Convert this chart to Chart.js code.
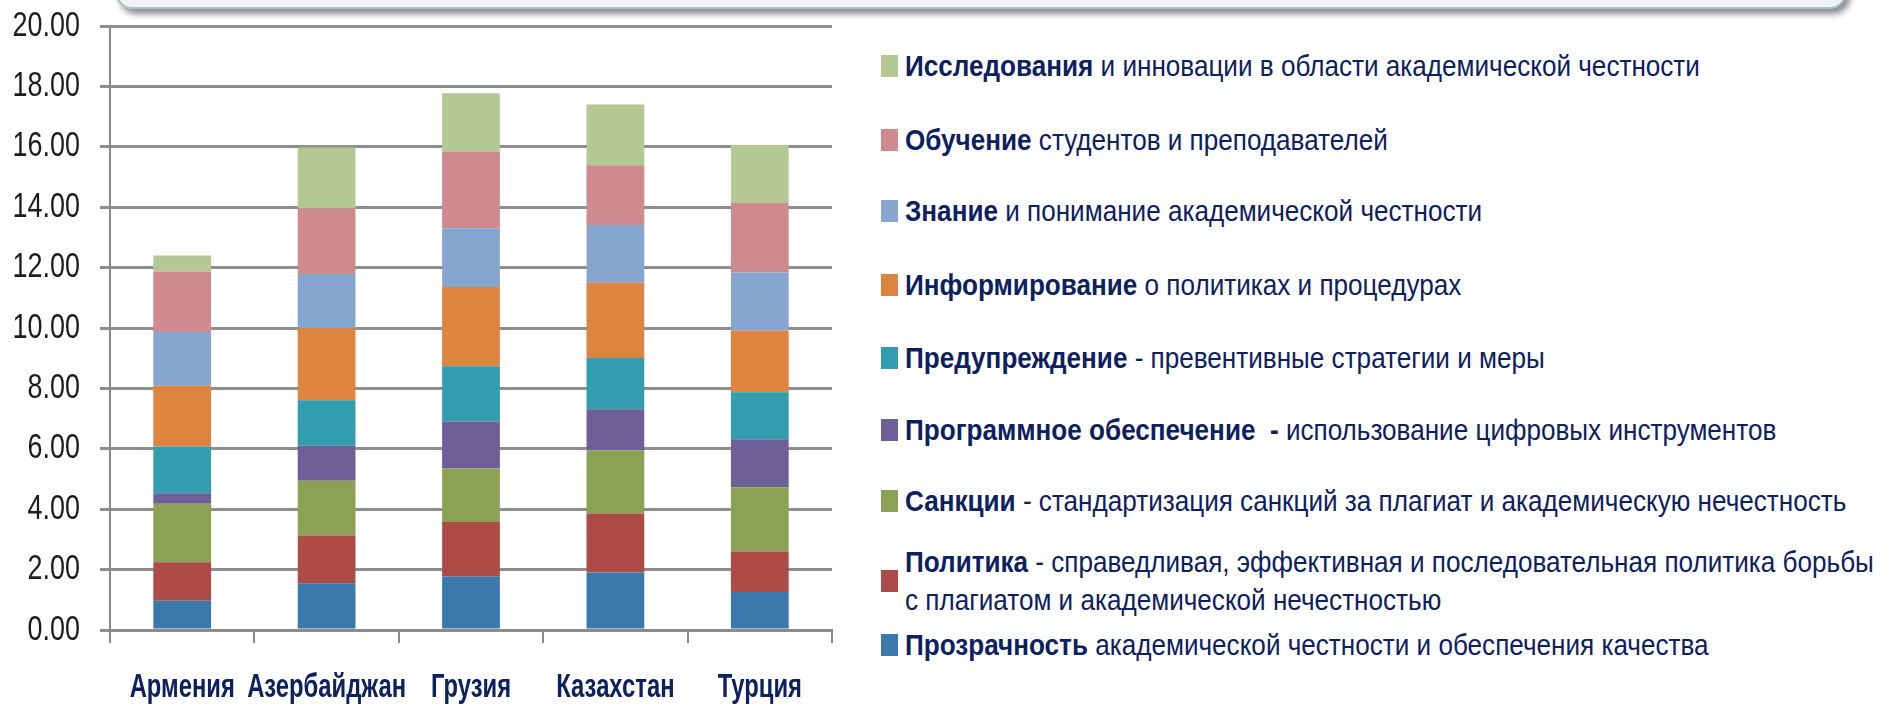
<!DOCTYPE html>
<html>
<head>
<meta charset="utf-8">
<script src="https://cdn.jsdelivr.net/npm/chart.js@4"></script>
<style>
  body { margin: 0; width: 1888px; height: 705px; background: #fff; overflow: hidden; position: relative; }
  #topBox {
    position: absolute; left: 116px; top: -27px; width: 1726px; height: 32px;
    background: #eef4f4; border: 2px solid #a9c4c6; border-radius: 16px;
    box-shadow: 4px 5px 6px rgba(0, 0, 0, 0.45);
  }
  #chartWrap { position: absolute; left: 0; top: 0; width: 850px; height: 705px; }
  #legend { position: absolute; left: 881px; top: 0; }
  .item { position: absolute; left: 0; display: flex; align-items: center; white-space: nowrap; }
  .sw { width: 17px; height: 22px; flex: none; }
  .txt {
    margin-left: 7px; font-family: "Liberation Sans", Arial, sans-serif; font-size: 30px;
    line-height: 38px; color: #0d2060; white-space: pre; transform: scaleX(0.87); transform-origin: left center;
  }
  .txt b { font-weight: bold; }
</style>
</head>
<body>
<div id="topBox"></div>
<div id="chartWrap"><canvas id="stackChart"></canvas></div>
<div id="legend"></div>
<script>
const countries = ["Армения", "Азербайджан", "Грузия", "Казахстан", "Турция"];

// series from bottom of the stack to top
const transparency = [0.97, 1.55, 1.77, 1.90, 1.26];
const policy = [1.27, 1.58, 1.81, 1.96, 1.34];
const sanctions = [1.94, 1.81, 1.77, 2.08, 2.13];
const software = [0.35, 1.16, 1.55, 1.37, 1.59];
const prevention = [1.55, 1.51, 1.83, 1.70, 1.55];
const informing = [2.01, 2.39, 2.63, 2.49, 2.05];
const knowledge = [1.78, 1.79, 1.94, 1.91, 1.92];
const training = [2.00, 2.17, 2.53, 1.98, 2.30];
const research = [0.53, 2.02, 1.94, 2.01, 1.92];

const seriesBold = ["Прозрачность", "Политика", "Санкции", "Программное обеспечение  -", "Предупреждение",
    "Информирование", "Знание", "Обучение", "Исследования"];
const seriesRest = [
    " академической честности и обеспечения качества",
    " - справедливая, эффективная и последовательная политика борьбы\nс плагиатом и академической нечестностью",
    " - стандартизация санкций за плагиат и академическую нечестность",
    " использование цифровых инструментов",
    " - превентивные стратегии и меры",
    " о политиках и процедурах",
    " и понимание академической честности",
    " студентов и преподавателей",
    " и инновации в области академической честности",
];
const seriesColors = ["#3b78ab", "#ad4b47", "#8ba153", "#6d5f97", "#329daf", "#dd8441", "#87a6cf", "#cf8a8f", "#b4c893"];
const seriesData = [transparency, policy, sanctions, software, prevention, informing, knowledge, training, research];

const yTicks = [0, 2, 4, 6, 8, 10, 12, 14, 16, 18, 20];

// legend, top entry = top of stack
const legendY = [645, 581, 501, 430, 358, 285, 211, 140, 66];
const legend = document.getElementById("legend");
seriesBold.forEach((b, i) => {
    const row = document.createElement("div");
    row.className = "item";
    const lines = seriesRest[i].split("\n").length;
    const h = lines * 38;
    row.style.top = (legendY[i] - h / 2) + "px";
    const sw = document.createElement("div");
    sw.className = "sw";
    sw.style.background = seriesColors[i];
    const t = document.createElement("div");
    t.className = "txt";
    const bold = document.createElement("b");
    bold.textContent = b;
    t.appendChild(bold);
    t.appendChild(document.createTextNode(seriesRest[i]));
    row.appendChild(sw);
    row.appendChild(t);
    legend.appendChild(row);
});

// the original uses narrow fonts, so tick labels are drawn squeezed horizontally
const narrowLabels = {
    id: "narrowLabels",
    afterDraw(chart) {
        const c = chart.ctx;
        const xs = chart.scales.x, ys = chart.scales.y;
        c.save();
        c.fillStyle = "#1c1c1c";
        c.font = "35px 'Liberation Sans', Arial, sans-serif";
        c.textAlign = "right";
        c.textBaseline = "middle";
        ys.ticks.forEach((t) => {
            const y = ys.getPixelForValue(t.value);
            c.save();
            c.translate(80, y);
            c.scale(0.77, 1);
            c.fillText(t.value.toFixed(2), 0, 0);
            c.restore();
        });
        c.fillStyle = "#0d2060";
        c.font = "bold 34px 'Liberation Sans', Arial, sans-serif";
        c.textAlign = "center";
        c.textBaseline = "alphabetic";
        xs.ticks.forEach((t, i) => {
            const x = xs.getPixelForTick(i);
            c.save();
            c.translate(x, 697);
            c.scale(0.7, 1);
            c.fillText(countries[i], 0, 0);
            c.restore();
        });
        c.restore();
    },
};

const ctx = document.getElementById("stackChart");
new Chart(ctx, {
    type: "bar",
    data: {
        labels: countries,
        datasets: seriesData.map((d, i) => ({
            label: seriesBold[i],
            data: d,
            backgroundColor: seriesColors[i],
            borderWidth: 0,
            barPercentage: 0.4,
            categoryPercentage: 1,
        })),
    },
    plugins: [narrowLabels],
    options: {
        responsive: true,
        maintainAspectRatio: false,
        animation: false,
        layout: { padding: { left: 14, right: 18, top: 26, bottom: 4 } },
        plugins: { legend: { display: false }, tooltip: { enabled: false } },
        scales: {
            x: {
                stacked: true,
                grid: { drawOnChartArea: false, drawTicks: true, tickLength: 13, color: "#8a8a8a", lineWidth: 2 },
                border: { display: true, color: "#8a8a8a", width: 2 },
                ticks: { display: false },
                afterFit: (s) => { s.height = 71; },
            },
            y: {
                stacked: true,
                min: 0,
                max: 20,
                afterBuildTicks: (s) => { s.ticks = yTicks.map((v) => ({ value: v })); },
                grid: { color: "#8e8e8e", lineWidth: 3, tickLength: 10 },
                border: { display: true, color: "#8a8a8a", width: 2 },
                ticks: { display: false },
                afterFit: (s) => { s.width = 96; },
            },
        },
    },
});
</script>
</body>
</html>
